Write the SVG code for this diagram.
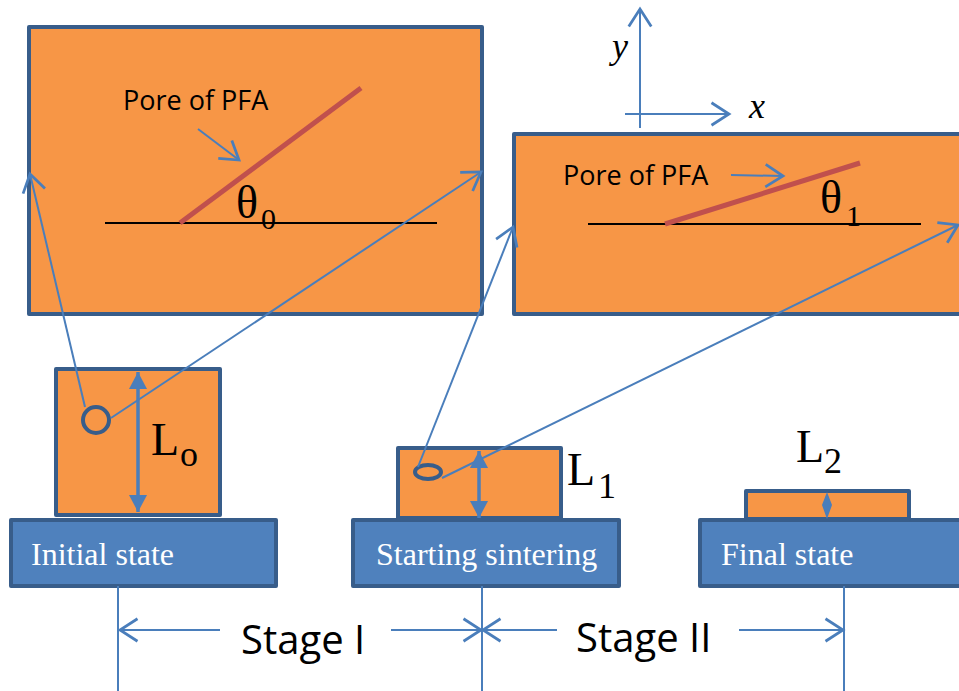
<svg xmlns="http://www.w3.org/2000/svg" width="959" height="691" viewBox="0 0 959 691">
  <style>
    .panel { fill: #F79646; stroke: #385D8A; stroke-width: 4; stroke-linejoin: round; }
    .base { fill: #4F81BD; stroke: #385D8A; stroke-width: 4; stroke-linejoin: round; }
    .pore { stroke: #C0504D; stroke-width: 5; }
    .ref { stroke: #000; stroke-width: 2; }
    .conn { stroke: #4A7EBB; stroke-width: 2; fill: none; }
    .dim { stroke: #4A7EBB; stroke-width: 3.5; fill: none; }
    .sans { font-family: "Open Sans", "Liberation Sans", sans-serif; fill: #000; }
    .serif { font-family: "Liberation Serif", "Times New Roman", serif; fill: #000; }
    .basetext { font-family: "Liberation Serif", "Times New Roman", serif; fill: #fff; font-size: 32px; }
  </style>
  <defs>
    <marker id="open" markerUnits="userSpaceOnUse" markerWidth="30" markerHeight="30" refX="0" refY="0" viewBox="-16 -12 20 24" orient="auto">
      <path d="M -14 -9 L 0 0 L -14 9" fill="none" stroke="#4A7EBB" stroke-width="2.2" stroke-linejoin="miter"/>
    </marker>
    <marker id="solid" markerUnits="userSpaceOnUse" markerWidth="24" markerHeight="24" refX="0" refY="0" viewBox="-20 -12 24 24" orient="auto-start-reverse">
      <path d="M -17 -9 L 0 0 L -17 9 Z" fill="#4A7EBB"/>
    </marker>
  </defs>

  <!-- magnified view of the initial pore -->
  <g id="panel-initial">
    <rect class="panel" x="29" y="27" width="453" height="287"/>
    <line class="ref" x1="105" y1="223" x2="437" y2="223"/>
    <line class="pore" x1="180" y1="223" x2="361" y2="88"/>
    <text class="sans" x="123" y="110" font-size="27">Pore of PFA</text>
    <text class="serif" x="236" y="218" font-size="46">θ<tspan x="261" y="229" font-size="30">0</tspan></text>
  </g>

  <!-- magnified view of the pore after sintering starts -->
  <g id="panel-sintering">
    <rect class="panel" x="514" y="134" width="470" height="180"/>
    <line class="ref" x1="588" y1="224" x2="921" y2="224"/>
    <line class="pore" x1="665" y1="224" x2="860" y2="163"/>
    <text class="sans" x="563" y="185" font-size="27">Pore of PFA</text>
    <text class="serif" x="820" y="213" font-size="46">θ<tspan x="846" y="226" font-size="30">1</tspan></text>
  </g>

  <!-- coordinate axes -->
  <g id="axes">
    <line class="conn" x1="640" y1="128" x2="640" y2="9" marker-end="url(#open)"/>
    <line class="conn" x1="625" y1="114" x2="729" y2="114" marker-end="url(#open)"/>
    <text class="serif" x="612" y="58" font-size="36" font-style="italic">y</text>
    <text class="serif" x="749" y="118" font-size="36" font-style="italic">x</text>
  </g>

  <!-- initial state -->
  <g id="initial-state">
    <rect class="base" x="11" y="520" width="265" height="66"/>
    <text class="basetext" x="31" y="565">Initial state</text>
    <rect class="panel" x="56" y="369" width="164" height="146"/>
    <circle cx="96" cy="420" r="13" fill="none" stroke="#385D8A" stroke-width="4"/>
    <line class="dim" x1="138" y1="372" x2="138" y2="512" marker-start="url(#solid)" marker-end="url(#solid)"/>
    <text class="serif" x="151" y="455" font-size="46">L<tspan x="180" y="466" font-size="36">o</tspan></text>
  </g>

  <!-- starting sintering -->
  <g id="starting-sintering">
    <rect class="base" x="353" y="520" width="266" height="66"/>
    <text class="basetext" x="376" y="565">Starting sintering</text>
    <rect class="panel" x="398" y="448" width="163" height="70"/>
    <ellipse cx="428" cy="472" rx="13" ry="7" fill="none" stroke="#385D8A" stroke-width="4"/>
    <line class="dim" x1="479" y1="451" x2="479" y2="518" marker-start="url(#solid)" marker-end="url(#solid)"/>
    <text class="serif" x="567" y="485" font-size="46">L<tspan x="598" y="498" font-size="36">1</tspan></text>
  </g>

  <!-- final state -->
  <g id="final-state">
    <rect class="base" x="700" y="520" width="280" height="66"/>
    <text class="basetext" x="721" y="565">Final state</text>
    <rect class="panel" x="746" y="491" width="163" height="28"/>
    <polygon points="827,492 832,505 827,519 822,505" fill="#4A7EBB"/>
    <text class="serif" x="796" y="462" font-size="46">L<tspan x="824" y="473" font-size="36">2</tspan></text>
  </g>

  <!-- stage spans -->
  <g id="stages">
    <text class="sans" x="241" y="654" font-size="40">Stage I</text>
    <text class="sans" x="576" y="652" font-size="40">Stage II</text>
  </g>

  <g id="connectors">
    <!-- zoom leaders from the pores to their magnified views -->
    <line class="conn" x1="85" y1="407" x2="30" y2="174" marker-end="url(#open)"/>
    <line class="conn" x1="111" y1="418" x2="481" y2="172" marker-end="url(#open)"/>
    <line class="conn" x1="418" y1="467" x2="513" y2="227" marker-end="url(#open)"/>
    <line class="conn" x1="442" y1="478" x2="958" y2="225" marker-end="url(#open)"/>
    <!-- pore pointers -->
    <line class="conn" x1="198" y1="129" x2="239" y2="160" marker-end="url(#open)"/>
    <line class="conn" x1="731" y1="175" x2="783" y2="176" marker-end="url(#open)"/>
    <!-- stage extent lines -->
    <line class="conn" x1="118" y1="586" x2="118" y2="691"/>
    <line class="conn" x1="482" y1="586" x2="482" y2="691"/>
    <line class="conn" x1="844" y1="586" x2="844" y2="691"/>
    <line class="conn" x1="220" y1="630" x2="120" y2="630" marker-end="url(#open)"/>
    <line class="conn" x1="391" y1="630" x2="481" y2="630" marker-end="url(#open)"/>
    <line class="conn" x1="557" y1="630" x2="483" y2="630" marker-end="url(#open)"/>
    <line class="conn" x1="739" y1="630" x2="843" y2="630" marker-end="url(#open)"/>
  </g>
</svg>
